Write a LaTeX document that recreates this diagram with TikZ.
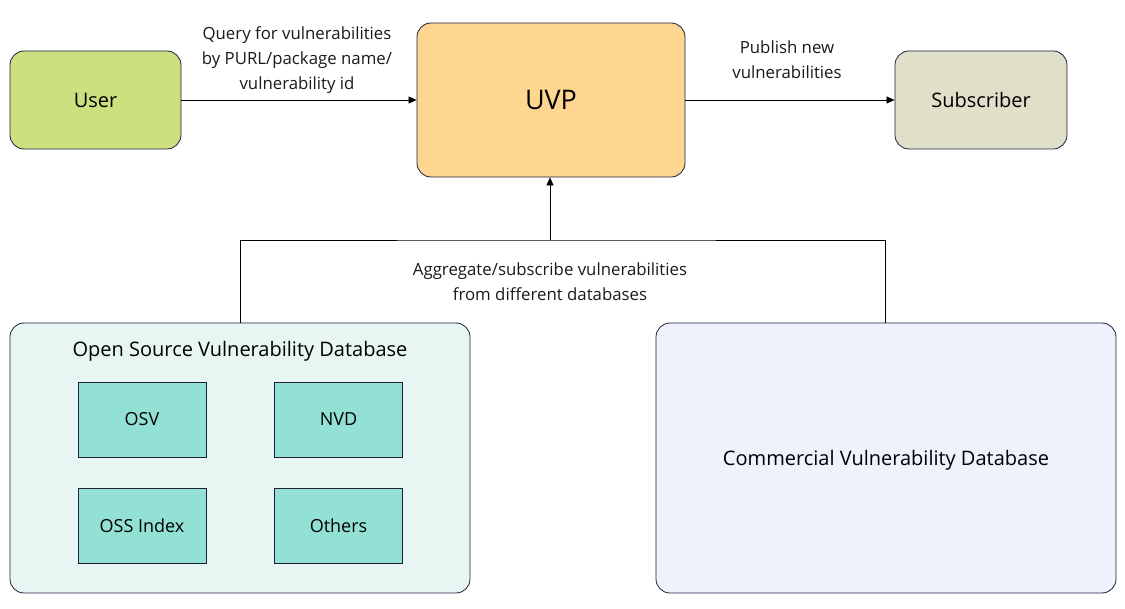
\documentclass[tikz,border=0pt]{standalone}
\usepackage{fontspec}
\setmainfont{Open Sans}
\usetikzlibrary{arrows.meta}
\definecolor{edge}{HTML}{1E2038}
\definecolor{userfill}{HTML}{CDE07F}
\definecolor{uvpfill}{HTML}{FFD690}
\definecolor{subfill}{HTML}{E0DFC8}
\definecolor{osfill}{HTML}{E8F6F3}
\definecolor{dbfill}{HTML}{93E1D5}
\definecolor{comfill}{HTML}{EDF2FD}
\tikzset{
  box/.style={draw=edge, line width=0.8pt, rounded corners=14pt, inner sep=0pt, text height=14.3pt, text depth=0pt, font=\fontsize{20}{24}\selectfont},
  dbbox/.style={draw=edge, line width=0.8pt, fill=dbfill, inner sep=0pt, minimum width=128pt, minimum height=75pt, text height=12.9pt, text depth=0pt, font=\fontsize{18}{21}\selectfont},
  conn/.style={draw=black, line width=0.7pt},
  arr/.style={conn, -{Triangle[length=8pt,width=7pt]}},
  lbl/.style={align=center, font=\fontsize{16.8}{25}\selectfont, text=black!90}
}
\begin{document}
\begin{tikzpicture}[x=1pt,y=-1pt]
\useasboundingbox (0,0) rectangle (1125,609);
% main boxes
\node[box, fill=userfill, minimum width=171pt, minimum height=98pt] (user) at (95.5,100) {User};
\node[box, fill=uvpfill, minimum width=268pt, minimum height=154pt, text height=19.3pt, font=\fontsize{27}{30}\selectfont] (uvp) at (551,100) {UVP};
\node[box, fill=subfill, minimum width=172pt, minimum height=98pt] (sub) at (981,100) {Subscriber};
\node[box, fill=osfill, minimum width=460pt, minimum height=270pt] (os) at (240,458) {};
\node[font=\fontsize{20}{24}\selectfont, text height=14.3pt, text depth=0pt, inner sep=0pt] (ostitle) at (240,349) {Open Source Vulnerability Database};
\node[box, fill=comfill, minimum width=460pt, minimum height=270pt] (com) at (886,458) {Commercial Vulnerability Database};
% inner db boxes
\node[dbbox] (osv) at (142,419.5) {OSV};
\node[dbbox] (nvd) at (338.5,419.5) {NVD};
\node[dbbox] (ossi) at (142,526) {OSS Index};
\node[dbbox] (oth) at (338.5,526) {Others};
% connectors
\draw[arr] (user.east) -- (uvp.west);
\draw[arr] (uvp.east) -- (sub.west);
\coordinate (j) at (550,240);
\draw[conn] (os.north -| 240,0) |- (j) -| (com.north -| 885,0);
\draw[arr] (j) -- (uvp.south -| j);
% labels
\node[lbl] (l1) at (297,60) {Query for vulnerabilities\\by PURL/package name/\\vulnerability id};
\node[lbl] (l2) at (787,59.5) {Publish new\\vulnerabilities};
\node[lbl] (l3) at (550,281.5) {Aggregate/subscribe vulnerabilities\\from different databases};
\end{tikzpicture}
\end{document}
